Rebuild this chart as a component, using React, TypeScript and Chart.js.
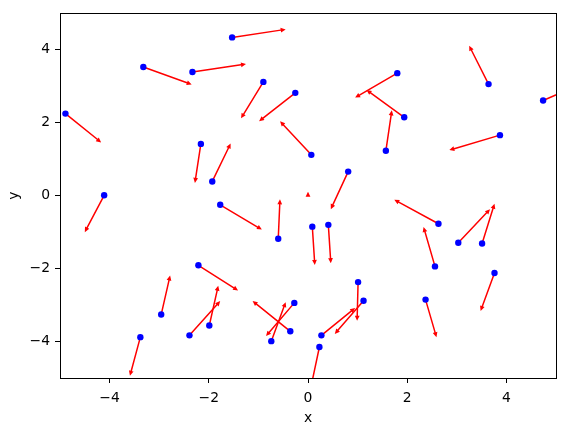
import React, { useEffect, useRef } from 'react';
import { Chart, registerables } from 'chart.js';

Chart.register(...registerables);

// Arrow tails (x, y) and vector components (u, v)
const arrowX = [-4.89, -3.32, -2.33, -1.53, -0.9, -0.256, 0.067, 1.8, 1.94, 3.64, 4.74, 3.87, 1.57, -2.16, -1.93, -4.11, -1.77, 0.81, -0.6, 0.087, 0.41, 2.63, 3.03, 3.51, 2.56, 2.37, 3.76, -2.21, -2.96, -1.99, -2.39, -3.38, -0.276, -0.357, -0.74, 1.01, 1.12, 0.27, 0.23, 0.0];
const arrowY = [2.25, 3.53, 3.39, 4.34, 3.12, 2.82, 1.12, 3.36, 2.15, 3.06, 2.61, 1.66, 1.23, 1.42, 0.39, 0.01, -0.25, 0.66, -1.18, -0.85, -0.8, -0.77, -1.29, -1.31, -1.94, -2.85, -2.12, -1.91, -3.26, -3.56, -3.83, -3.88, -2.94, -3.72, -3.99, -2.37, -2.88, -3.83, -4.15, 0.07];
const arrowU = [0.72, 0.975, 1.08, 1.08, -0.45, -0.73, -0.63, -0.85, -0.76, -0.39, 0.95, -1.02, 0.12, -0.12, 0.37, -0.39, 0.84, -0.35, 0.035, 0.05, 0.05, -0.89, 0.64, 0.25, -0.23, 0.22, -0.28, 0.8, 0.18, 0.18, 0.62, -0.21, -0.57, -0.76, 0.29, -0.02, -0.58, 0.68, -0.17, 0.0];
const arrowV = [-0.79, -0.48, 0.22, 0.22, -1.0, -0.78, 0.92, -0.67, 0.75, 1.05, 0.56, -0.41, 1.11, -1.07, 1.04, -1.01, -0.68, -1.03, 1.08, -1.05, -1.05, 0.66, 0.92, 1.09, 1.08, -1.03, -1.04, -0.69, 1.07, 1.09, 0.94, -1.06, -0.91, 0.83, 1.07, -1.06, -0.91, 0.75, -1.09, 0.04];
// the last arrow (at the origin) has no blue marker
const dotCount = 39;

const xTicks = [-4, -2, 0, 2, 4];
const yTicks = [-4, -2, 0, 2, 4];
const xMin = -5, xMax = 5, yMin = -5, yMax = 5;
const xLabel = 'x';
const yLabel = 'y';

const FONT = "'DejaVu Sans', sans-serif";
const FS = 13.9;

const quiverPlugin = {
  id: 'quiver',
  beforeDatasetsDraw(chart: any) {
    const { ctx, chartArea, scales } = chart;
    const xs = scales.x, ys = scales.y;
    ctx.save();
    ctx.beginPath();
    ctx.rect(chartArea.left, chartArea.top, chartArea.right - chartArea.left, chartArea.bottom - chartArea.top);
    ctx.clip();
    ctx.fillStyle = '#ff0000';
    const hw = 0.75, hl = 5, hh = 2.4;
    for (let i = 0; i < arrowX.length; i++) {
      const x0 = xs.getPixelForValue(arrowX[i]);
      const y0 = ys.getPixelForValue(arrowY[i]);
      const x1 = xs.getPixelForValue(arrowX[i] + arrowU[i]);
      const y1 = ys.getPixelForValue(arrowY[i] + arrowV[i]);
      const dx = x1 - x0, dy = y1 - y0;
      const len = Math.hypot(dx, dy);
      if (len === 0) continue;
      const ux = dx / len, uy = dy / len;
      const px = -uy, py = ux;
      ctx.beginPath();
      const bx = x1 - ux * hl, by = y1 - uy * hl;
      if (len <= hl) {
        ctx.moveTo(x1, y1);
        ctx.lineTo(bx + px * hh, by + py * hh);
        ctx.lineTo(bx - px * hh, by - py * hh);
      } else {
        ctx.moveTo(x0 + px * hw, y0 + py * hw);
        ctx.lineTo(bx + px * hw, by + py * hw);
        ctx.lineTo(bx + px * hh, by + py * hh);
        ctx.lineTo(x1, y1);
        ctx.lineTo(bx - px * hh, by - py * hh);
        ctx.lineTo(bx - px * hw, by - py * hw);
        ctx.lineTo(x0 - px * hw, y0 - py * hw);
      }
      ctx.closePath();
      ctx.fill();
    }
    ctx.restore();
  },
  afterDraw(chart: any) {
    const { ctx, chartArea } = chart;
    ctx.save();
    ctx.strokeStyle = '#000';
    ctx.lineWidth = 1;
    const l = Math.round(chartArea.left) + 0.5;
    const t = Math.round(chartArea.top) + 0.5;
    const r = Math.round(chartArea.right) + 0.5;
    const b = Math.round(chartArea.bottom) + 0.5;
    ctx.strokeRect(l, t, r - l, b - t);
    ctx.restore();
  },
};

const fmt = (v: any) => String(v).replace('-', '\u2212');

export default function App() {
  const ref = useRef<HTMLCanvasElement>(null);
  useEffect(() => {
    document.body.style.margin = '0';
    const canvas = ref.current!;
    const points = arrowX.slice(0, dotCount).map((x, i) => ({ x, y: arrowY[i] }));
    const chart = new Chart(canvas, {
      type: 'scatter',
      data: {
        datasets: [
          {
            data: points,
            pointRadius: 3.2,
            pointHoverRadius: 3.2,
            pointBackgroundColor: '#0000ff',
            pointBorderWidth: 0,
            borderWidth: 0,
          },
        ],
      },
      options: {
        responsive: false,
        animation: false,
        events: [],
        layout: { padding: { left: 0, right: 9, top: 9, bottom: 0 } },
        plugins: { legend: { display: false }, tooltip: { enabled: false } },
        scales: {
          x: {
            type: 'linear',
            min: xMin,
            max: xMax,
            afterBuildTicks: (s: any) => { s.ticks = xTicks.map((v) => ({ value: v })); },
            afterFit: (s: any) => { s.height = 54; },
            border: { display: false },
            grid: { display: true, drawOnChartArea: false, drawTicks: true, tickLength: 5, color: '#000', lineWidth: 1 },
            ticks: { color: '#000', padding: 7, font: { family: FONT, size: FS }, callback: (v: any) => fmt(v), maxRotation: 0 },
            title: { display: true, text: xLabel, color: '#000', font: { family: FONT, size: FS }, padding: { top: 0, bottom: 5 } },
          },
          y: {
            type: 'linear',
            min: yMin,
            max: yMax,
            afterBuildTicks: (s: any) => { s.ticks = yTicks.map((v) => ({ value: v })); },
            afterFit: (s: any) => { s.width = 60; },
            border: { display: false },
            grid: { display: true, drawOnChartArea: false, drawTicks: true, tickLength: 5, color: '#000', lineWidth: 1 },
            ticks: { color: '#000', padding: 5, font: { family: FONT, size: FS }, callback: (v: any) => fmt(v) },
            title: { display: true, text: yLabel, color: '#000', font: { family: FONT, size: FS }, padding: { top: 6, bottom: 0 } },
          },
        },
      },
      plugins: [quiverPlugin],
    });
    return () => chart.destroy();
  }, []);
  return <canvas ref={ref} width={565} height={432} style={{ display: 'block', width: 565, height: 432 }} />;
}
